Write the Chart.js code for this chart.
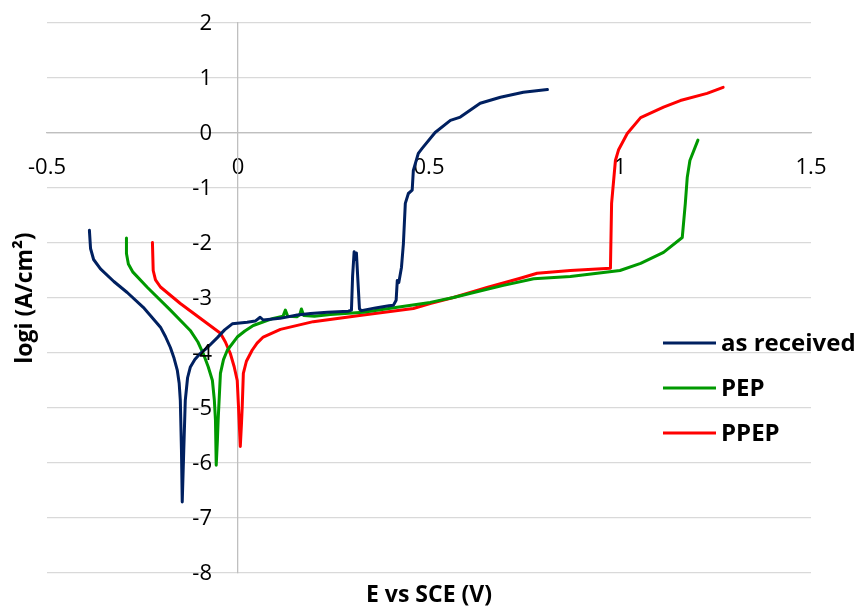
<!DOCTYPE html>
<html><head><meta charset="utf-8">
<script src="https://cdn.jsdelivr.net/npm/chart.js@4.4.0/dist/chart.umd.min.js"></script>
<style>html,body{margin:0;padding:0;background:#fff;} #wrap{width:859px;height:606px;position:relative;}</style>
</head><body><div id="wrap"><canvas id="c"></canvas></div>
<script>
const seriesNames = ['as received', 'PEP', 'PPEP'];
const seriesColors = ['#002060', '#009900', '#FF0000'];

const asReceivedE = [-0.389,-0.386,-0.378,-0.360,-0.325,-0.290,-0.248,-0.203,-0.190,-0.177,-0.168,-0.159,-0.154,-0.151,-0.148,-0.146,-0.142,-0.138,-0.132,-0.125,-0.113,-0.099,-0.080,-0.054,-0.035,-0.015,0.024,0.045,0.058,0.066,0.110,0.155,0.190,0.234,0.289,0.297,0.300,0.304,0.307,0.310,0.314,0.318,0.323,0.360,0.395,0.407,0.414,0.417,0.421,0.428,0.433,0.438,0.446,0.456,0.459,0.472,0.482,0.516,0.556,0.582,0.634,0.687,0.747,0.810];
const asReceivedLogI = [-1.77,-2.10,-2.30,-2.47,-2.70,-2.90,-3.17,-3.53,-3.70,-3.90,-4.08,-4.31,-4.55,-4.86,-5.77,-6.71,-5.77,-4.86,-4.45,-4.26,-4.12,-4.01,-3.90,-3.72,-3.58,-3.47,-3.44,-3.42,-3.35,-3.40,-3.37,-3.31,-3.28,-3.26,-3.24,-3.22,-2.60,-2.16,-2.30,-2.18,-2.70,-3.20,-3.23,-3.18,-3.14,-3.13,-3.04,-2.68,-2.72,-2.44,-2.01,-1.28,-1.10,-1.04,-0.68,-0.37,-0.28,0.01,0.23,0.29,0.54,0.65,0.74,0.79];

const pepE = [-0.292,-0.292,-0.287,-0.275,-0.237,-0.177,-0.125,-0.105,-0.091,-0.078,-0.067,-0.062,-0.059,-0.057,-0.054,-0.052,-0.046,-0.038,-0.028,-0.002,0.018,0.040,0.092,0.118,0.124,0.130,0.155,0.162,0.166,0.172,0.200,0.242,0.328,0.417,0.503,0.564,0.652,0.695,0.774,0.870,1.000,1.054,1.114,1.163,1.171,1.176,1.183,1.204];
const pepLogI = [-1.91,-2.19,-2.38,-2.53,-2.81,-3.22,-3.59,-3.80,-4.01,-4.25,-4.50,-4.85,-5.22,-6.04,-5.60,-5.22,-4.37,-4.12,-3.95,-3.71,-3.60,-3.50,-3.37,-3.33,-3.22,-3.33,-3.34,-3.30,-3.20,-3.32,-3.33,-3.30,-3.26,-3.17,-3.08,-2.99,-2.84,-2.77,-2.65,-2.61,-2.50,-2.37,-2.17,-1.90,-1.28,-0.81,-0.50,-0.13];

const ppepE = [-0.224,-0.222,-0.216,-0.203,-0.151,-0.091,-0.046,-0.033,-0.020,-0.010,-0.002,0.003,0.006,0.009,0.011,0.014,0.022,0.037,0.050,0.066,0.111,0.197,0.328,0.459,0.503,0.564,0.652,0.739,0.783,0.870,0.975,0.978,0.988,0.996,1.019,1.054,1.114,1.158,1.228,1.270];
const ppepLogI = [-1.99,-2.50,-2.67,-2.80,-3.10,-3.41,-3.64,-3.80,-4.01,-4.25,-4.50,-5.22,-5.70,-5.30,-4.99,-4.37,-4.15,-3.95,-3.82,-3.71,-3.57,-3.43,-3.31,-3.19,-3.10,-2.99,-2.81,-2.64,-2.55,-2.50,-2.46,-1.28,-0.50,-0.31,-0.01,0.28,0.47,0.59,0.72,0.83];

const xTicks = [-0.5, 0, 0.5, 1, 1.5];
const yTicks = [2, 1, 0, -1, -2, -3, -4, -5, -6, -7, -8];
const xTitle = 'E vs SCE (V)';
const yTitle = 'logi (A/cm²)';

const seriesE = [asReceivedE, pepE, ppepE];
const seriesLogI = [asReceivedLogI, pepLogI, ppepLogI];

const datasets = seriesNames.map((name, i) => ({
  label: name,
  data: seriesE[i].map((e, k) => ({x: e, y: seriesLogI[i][k]})),
  showLine: true,
  borderColor: seriesColors[i],
  backgroundColor: seriesColors[i],
  borderWidth: 3,
  pointRadius: 0,
  tension: 0,
  borderJoinStyle: 'round',
  borderCapStyle: 'round',
  fill: false
}));

const decorPlugin = {
  id: 'decor',
  afterDraw(chart) {
    const ctx = chart.ctx;
    const ca = chart.chartArea;
    const xs = chart.scales.x, ys = chart.scales.y;
    ctx.save();
    ctx.fillStyle = '#000';
    // y tick labels, placed with the library's y scale
    ctx.font = '22px "Open Sans"';
    ctx.textAlign = 'right';
    ctx.textBaseline = 'middle';
    const axisX = xs.getPixelForValue(0);
    yTicks.forEach(v => ctx.fillText(String(v), axisX - 26, ys.getPixelForValue(v) + 1));
    // x title
    ctx.font = 'bold 23px "Open Sans"';
    ctx.textAlign = 'center';
    ctx.textBaseline = 'alphabetic';
    ctx.fillText(xTitle, (ca.left + ca.right) / 2, 602);
    // y title
    ctx.save();
    ctx.translate(32, (ca.top + ca.bottom) / 2);
    ctx.rotate(-Math.PI / 2);
    ctx.font = 'bold 23px "Open Sans"';
    ctx.textAlign = 'center';
    ctx.textBaseline = 'alphabetic';
    ctx.fillText(yTitle, 0, 0);
    ctx.restore();
    // legend
    const ly = [343, 388, 433];
    chart.data.datasets.forEach((ds, i) => {
      ctx.strokeStyle = ds.borderColor;
      ctx.lineWidth = 3;
      ctx.lineCap = 'butt';
      ctx.beginPath();
      ctx.moveTo(663, ly[i]);
      ctx.lineTo(716, ly[i]);
      ctx.stroke();
      ctx.fillStyle = '#000';
      ctx.font = 'bold 24px "Open Sans"';
      ctx.textAlign = 'left';
      ctx.textBaseline = 'middle';
      ctx.fillText(ds.label, 721, ly[i] + 1);
    });
    ctx.restore();
  }
};

new Chart(document.getElementById('c'), {
  type: 'scatter',
  data: {datasets},
  options: {
    responsive: true,
    maintainAspectRatio: false,
    animation: false,
    layout: {padding: {left: 47, right: 48, top: 23, bottom: 33}},
    plugins: {legend: {display: false}, tooltip: {enabled: false}},
    scales: {
      x: {
        type: 'linear',
        position: {y: 0},
        min: -0.5, max: 1.5,
        afterBuildTicks: (s) => { s.ticks = xTicks.map(v => ({value: v})); },
        grid: {display: false, drawTicks: false},
        border: {display: true, color: '#bfbfbf', width: 1.3},
        ticks: {
          color: '#000',
          font: {family: 'Open Sans', size: 22},
          padding: 22,
          maxRotation: 0,
          autoSkip: false,
          callback: (v) => String(v)
        }
      },
      y: {
        type: 'linear',
        position: {x: 0},
        min: -8, max: 2,
        afterBuildTicks: (s) => { s.ticks = yTicks.map(v => ({value: v})); },
        grid: {
          display: true, drawTicks: false,
          color: (c) => (c.tick && c.tick.value === 0) ? '#bfbfbf' : '#d9d9d9',
          lineWidth: 1.3
        },
        border: {display: true, color: '#bfbfbf', width: 1.3},
        ticks: {display: false, font: {family: 'Open Sans', size: 22}}
      }
    }
  },
  plugins: [decorPlugin]
});
</script>
</body></html>
